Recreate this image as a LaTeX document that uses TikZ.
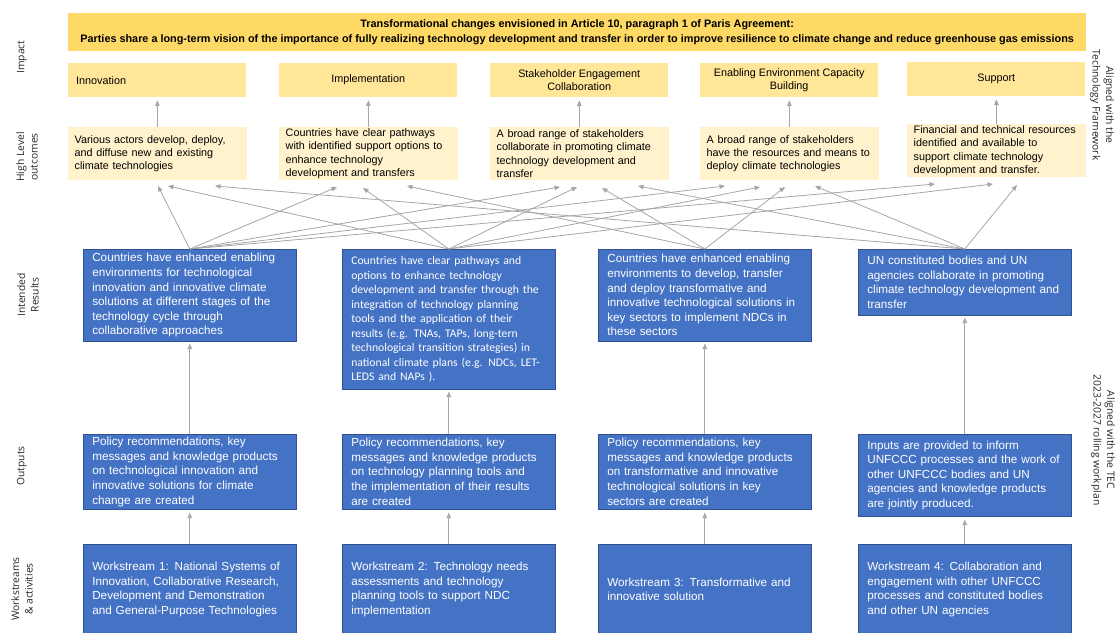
\documentclass[tikz,border=0pt]{standalone}
\usepackage{fontspec}
\setmainfont{Liberation Sans}
\newfontfamily\carlitofont{Carlito}
\newfontfamily\sidefont{Open Sans}
\usetikzlibrary{positioning,arrows.meta}

\definecolor{bannergold}{HTML}{FFD966}
\definecolor{impactyellow}{HTML}{FFE699}
\definecolor{outcomecream}{HTML}{FFF2CC}
\definecolor{resultblue}{HTML}{4472C4}
\definecolor{resultedge}{HTML}{2F528F}
\definecolor{linkgray}{HTML}{A6A6A6}

\begin{document}
\begin{tikzpicture}[x=1pt, y=-1pt,
  arrow/.style={-{Triangle[length=5.5pt,width=4.5pt]}, linkgray, line width=0.8pt},
  banner/.style={anchor=north west, fill=bannergold, minimum width=1018pt, minimum height=38pt, inner sep=0pt, align=center, font=\bfseries\fontsize{10.85}{15}\selectfont},
  impactbox/.style={anchor=north west, fill=impactyellow, minimum width=178pt, minimum height=34pt, inner sep=0pt, align=center, font=\fontsize{10.8}{13.2}\selectfont},
  outcomebox/.style={anchor=north west, fill=outcomecream, minimum width=179pt, minimum height=53pt, inner sep=0pt, text width=166pt, align=left, font=\fontsize{10.8}{13.2}\selectfont},
  bluebox/.style={anchor=north west, fill=resultblue, draw=resultedge, line width=0.6pt, text=white, minimum width=213pt, inner sep=0pt, text width=195pt, align=left, font=\fontsize{11.7}{14.6}\selectfont},
  sidelabel/.style={font=\sidefont\fontsize{10.3}{13.5}\selectfont, align=center, text=black!85}
]
\useasboundingbox (0,0) rectangle (1118,632);

% impact
\node[banner] (vision) at (68,13) {Transformational changes envisioned in Article 10, paragraph 1 of Paris Agreement:\\Parties share a long-term vision of the importance of fully realizing technology development and transfer in order to improve resilience to climate change and reduce greenhouse gas emissions};
\node[impactbox, text width=162pt, align=left] (innovation) at (68,63) {Innovation};
\node[impactbox] (implementation) at (279,63) {Implementation};
\node[impactbox] (engagement) at (490,63) {Stakeholder Engagement\\Collaboration};
\node[impactbox] (enabling) at (700,63) {Enabling Environment Capacity\\Building};
\node[impactbox] (support) at (907,62) {Support};

% high level outcomes
\node[outcomebox] (actors) at (68,127) {Various actors develop, deploy,\\and diffuse new and existing\\climate technologies};
\node[outcomebox] (pathways) at (279,127) {Countries have clear pathways\\with identified support options to\\enhance technology\\development and transfers};
\node[outcomebox] (stakeholders) at (490,127) {A broad range of stakeholders\\collaborate in promoting climate\\technology development and\\transfer};
\node[outcomebox] (resources) at (700,127) {A broad range of stakeholders\\have the resources and means to\\deploy climate technologies};
\node[outcomebox] (finance) at (907,124) {Financial and technical resources\\identified and available to\\support climate technology\\development and transfer.};

% intended results
\node[bluebox, minimum height=92pt] (r1) at (83,249) {Countries have enhanced enabling\\environments for technological\\innovation and innovative climate\\solutions at different stages of the\\technology cycle through\\collaborative approaches};
\node[bluebox, minimum height=140pt, font=\carlitofont\fontsize{11.7}{14.5}\selectfont] (r2) at (342,249) {Countries have clear pathways and\\options to enhance technology\\development and transfer through the\\integration of technology planning\\tools and the application of their\\results (e.g. TNAs, TAPs, long-tern\\technological transition strategies) in\\national climate plans (e.g. NDCs, LET-\\LEDS and NAPs ).};
\node[bluebox, minimum height=92pt] (r3) at (598,249) {Countries have enhanced enabling\\environments to develop, transfer\\and deploy transformative and\\innovative technological solutions in\\key sectors to implement NDCs in\\these sectors};
\node[bluebox, minimum height=66pt] (r4) at (858,249) {UN constituted bodies and UN\\agencies collaborate in promoting\\climate technology development and\\transfer};

% outputs
\node[bluebox, minimum height=75pt] (o1) at (83,434) {Policy recommendations, key\\messages and knowledge products\\on technological innovation and\\innovative solutions for climate\\change are created};
\node[bluebox, minimum height=75pt] (o2) at (342,434) {Policy recommendations, key\\messages and knowledge products\\on technology planning tools and\\the implementation of their results\\are created};
\node[bluebox, minimum height=75pt] (o3) at (598,434) {Policy recommendations, key\\messages and knowledge products\\on transformative and innovative\\technological solutions in key\\sectors are created};
\node[bluebox, minimum height=82pt] (o4) at (858,434) {Inputs are provided to inform\\UNFCCC processes and the work of\\other UNFCCC bodies and UN\\agencies and knowledge products\\are jointly produced.};

% workstreams
\node[bluebox, minimum height=90pt] (w1) at (83,544) {Workstream 1: National Systems of\\Innovation, Collaborative Research,\\Development and Demonstration\\and General-Purpose Technologies};
\node[bluebox, minimum height=90pt] (w2) at (342,544) {Workstream 2: Technology needs\\assessments and technology\\planning tools to support NDC\\implementation};
\node[bluebox, minimum height=90pt] (w3) at (598,544) {Workstream 3: Transformative and\\innovative solution};
\node[bluebox, minimum height=90pt] (w4) at (858,544) {Workstream 4: Collaboration and\\engagement with other UNFCCC\\processes and constituted bodies\\and other UN agencies};

% row labels
\node[sidelabel, rotate=90] (impactlabel) at (22,57) {Impact};
\node[sidelabel, rotate=90] (outcomelabel) at (27,157) {High Level\\outcomes};
\node[sidelabel, rotate=90] (resultlabel) at (28,295) {Intended\\Results};
\node[sidelabel, rotate=90] (outputlabel) at (22,466) {Outputs};
\node[sidelabel, rotate=90] (streamlabel) at (22,589) {Workstreams\\\& activities};
\node[sidelabel, rotate=-90] (frameworklabel) at (1102,105) {Aligned with the\\Technology Framework};
\node[sidelabel, rotate=-90] (workplanlabel) at (1103,440) {Aligned with the TEC\\2023-2027 rolling workplan};

% arrow tips under the outcomes
\coordinate (a1) at (158,186);
\coordinate (a2) at (168,186);
\coordinate (a3) at (215,186);
\coordinate (p1) at (337,187);
\coordinate (p2) at (363,188);
\coordinate (p3) at (407,186);
\coordinate (s1) at (560,187);
\coordinate (s2) at (577,187);
\coordinate (s3) at (602,188);
\coordinate (s4) at (638,186);
\coordinate (e1) at (725,186);
\coordinate (e2) at (760,187);
\coordinate (e3) at (785,187);
\coordinate (e4) at (815,186);
\coordinate (f1) at (935,184);
\coordinate (f2) at (993,184);
\coordinate (f3) at (1017,185);

% outcomes to impact
\draw[arrow, shorten >=3pt] (actors) -- (innovation);
\draw[arrow, shorten >=3pt] (pathways) -- (implementation);
\draw[arrow, shorten >=3pt] (stakeholders) -- (engagement);
\draw[arrow, shorten >=3pt] (resources) -- (enabling);
\draw[arrow, shorten >=3pt] (finance) -- (support);

% intended results to outcomes
\draw[arrow] (r1.north) -- (a1);
\draw[arrow] (r1.north) -- (p1);
\draw[arrow] (r1.north) -- (s1);
\draw[arrow] (r1.north) -- (e1);
\draw[arrow] (r1.north) -- (f1);
\draw[arrow] (r2.north) -- (a2);
\draw[arrow] (r2.north) -- (p2);
\draw[arrow] (r2.north) -- (s2);
\draw[arrow] (r2.north) -- (e2);
\draw[arrow] (r2.north) -- (f2);
\draw[arrow] (r3.north) -- (p3);
\draw[arrow] (r3.north) -- (s3);
\draw[arrow] (r3.north) -- (e3);
\draw[arrow] (r4.north) -- (a3);
\draw[arrow] (r4.north) -- (s4);
\draw[arrow] (r4.north) -- (e4);
\draw[arrow] (r4.north) -- (f3);

% outputs to results, workstreams to outputs
\draw[arrow, shorten >=2pt] (o1) -- (r1);
\draw[arrow, shorten >=2pt] (o2) -- (r2);
\draw[arrow, shorten >=2pt] (o3) -- (r3);
\draw[arrow, shorten >=2pt] (o4) -- (r4);
\draw[arrow, shorten >=3pt] (w1) -- (o1);
\draw[arrow, shorten >=3pt] (w2) -- (o2);
\draw[arrow, shorten >=3pt] (w3) -- (o3);
\draw[arrow, shorten >=3pt] (w4) -- (o4);

\end{tikzpicture}
\end{document}
